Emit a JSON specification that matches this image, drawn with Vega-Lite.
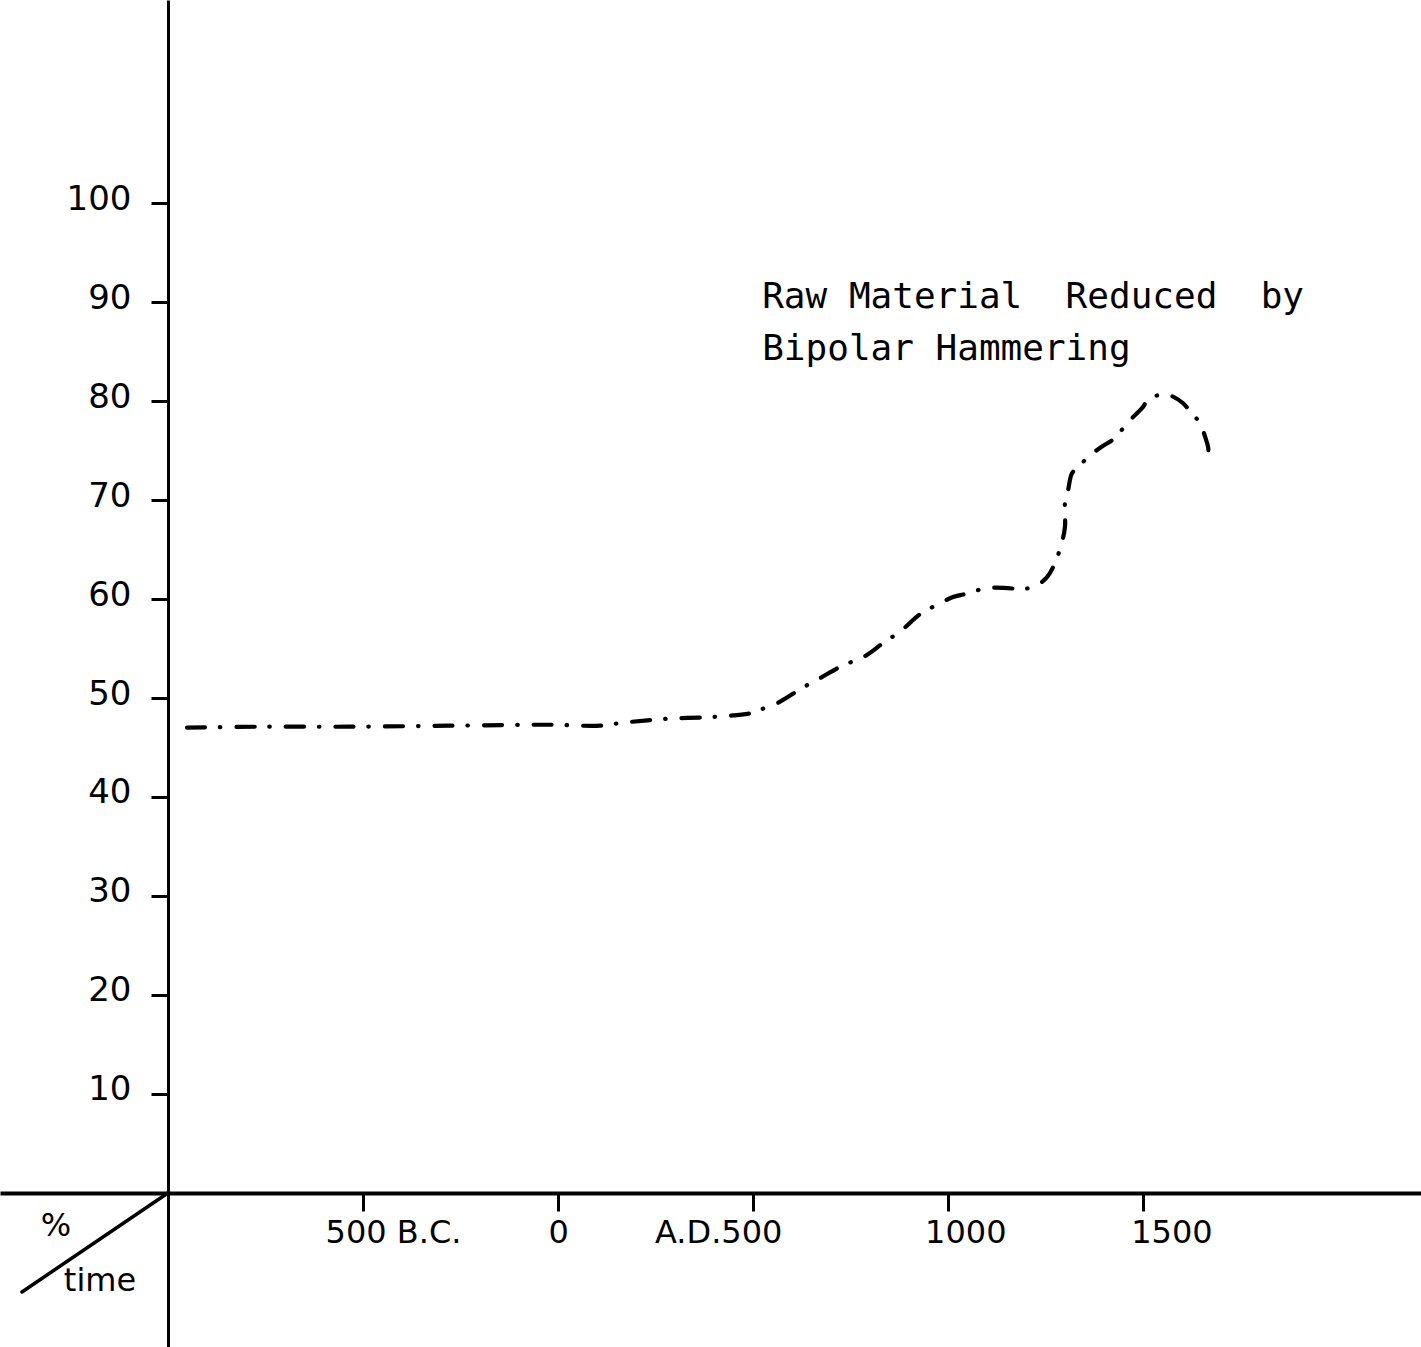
{
  "$schema": "https://vega.github.io/schema/vega-lite/v6.json",
  "width": 1421,
  "height": 1347,
  "autosize": {"type": "none"},
  "padding": 0,
  "background": "white",
  "config": {"view": {"stroke": null}},
  "datasets": {
    "curve": [
      {"i": 0, "year": -951, "pct": 47.0},
      {"i": 1, "year": -764, "pct": 47.1},
      {"i": 2, "year": -533, "pct": 47.1},
      {"i": 3, "year": -277, "pct": 47.2},
      {"i": 4, "year": -21, "pct": 47.3},
      {"i": 5, "year": 107, "pct": 47.2},
      {"i": 6, "year": 166, "pct": 47.5},
      {"i": 7, "year": 279, "pct": 47.9},
      {"i": 8, "year": 402, "pct": 48.1},
      {"i": 9, "year": 499, "pct": 48.5},
      {"i": 10, "year": 517, "pct": 48.8},
      {"i": 11, "year": 563, "pct": 49.5},
      {"i": 12, "year": 625, "pct": 51.0},
      {"i": 13, "year": 671, "pct": 52.0},
      {"i": 14, "year": 730, "pct": 53.3},
      {"i": 15, "year": 781, "pct": 54.1},
      {"i": 16, "year": 838, "pct": 55.7},
      {"i": 17, "year": 876, "pct": 56.7},
      {"i": 18, "year": 932, "pct": 58.6},
      {"i": 19, "year": 971, "pct": 59.4},
      {"i": 20, "year": 1012, "pct": 60.2},
      {"i": 21, "year": 1043, "pct": 60.5},
      {"i": 22, "year": 1099, "pct": 61.1},
      {"i": 23, "year": 1153, "pct": 61.1},
      {"i": 24, "year": 1191, "pct": 61.0},
      {"i": 25, "year": 1227, "pct": 61.4},
      {"i": 26, "year": 1253, "pct": 62.2},
      {"i": 27, "year": 1273, "pct": 63.6},
      {"i": 28, "year": 1291, "pct": 65.7},
      {"i": 29, "year": 1299, "pct": 67.3},
      {"i": 30, "year": 1299, "pct": 69.7},
      {"i": 31, "year": 1307, "pct": 71.0},
      {"i": 32, "year": 1317, "pct": 72.7},
      {"i": 33, "year": 1337, "pct": 73.5},
      {"i": 34, "year": 1363, "pct": 74.5},
      {"i": 35, "year": 1394, "pct": 75.4},
      {"i": 36, "year": 1422, "pct": 76.1},
      {"i": 37, "year": 1445, "pct": 77.1},
      {"i": 38, "year": 1474, "pct": 78.4},
      {"i": 39, "year": 1497, "pct": 79.3},
      {"i": 40, "year": 1512, "pct": 80.1},
      {"i": 41, "year": 1550, "pct": 80.7},
      {"i": 42, "year": 1573, "pct": 80.5},
      {"i": 43, "year": 1601, "pct": 79.8},
      {"i": 44, "year": 1627, "pct": 78.6},
      {"i": 45, "year": 1645, "pct": 77.8},
      {"i": 46, "year": 1658, "pct": 76.4},
      {"i": 47, "year": 1666, "pct": 75.3},
      {"i": 48, "year": 1666, "pct": 74.2}
    ],
    "diag": [
      {"year": -1374, "pct": -10.0, "year2": -1000, "pct2": 0}
    ],
    "notes": [
      {"year": 523, "pct": 89.4, "text": "Raw Material\u00a0\u00a0Reduced\u00a0\u00a0by"},
      {"year": 523, "pct": 84.1, "text": "Bipolar Hammering"}
    ],
    "corner": [
      {"year": -1287, "pct": -3.3, "text": "%"},
      {"year": -1174, "pct": -8.9, "text": "time"}
    ]
  },
  "layer": [
    {
      "data": {"name": "curve"},
      "mark": {
        "type": "line",
        "color": "black",
        "strokeWidth": 4.2,
        "strokeCap": "round",
        "strokeDash": [18, 15, 0.5, 16],
        "interpolate": "catmull-rom"
      },
      "encoding": {
        "x": {
          "field": "year",
          "type": "quantitative",
          "scale": {"domain": [-1430.3, 2211.4], "nice": false, "zero": false},
          "axis": {
            "orient": "bottom",
            "offset": -154,
            "values": [-500, 0, 500, 1000, 1500],
            "labelExpr": "datum.value == -500 ? '500 B.C.' : datum.value == 500 ? 'A.D.500' : datum.value",
            "title": null,
            "grid": false,
            "domainColor": "black",
            "domainWidth": 4,
            "tickColor": "black",
            "tickWidth": 3,
            "tickSize": 18,
            "labelPadding": 6,
            "labelFont": "DejaVu Sans",
            "labelFontSize": 32,
            "labelColor": "black",
            "labelBaseline": "top",
            "labelFlush": false,
            "labelOverlap": false,
            "labelOffset": {
              "condition": [
                {"test": "datum.value == -500", "value": 30},
                {"test": "datum.value == 500", "value": -35},
                {"test": "datum.value == 1000", "value": 17},
                {"test": "datum.value == 1500", "value": 28}
              ],
              "value": 0
            }
          }
        },
        "y": {
          "field": "pct",
          "type": "quantitative",
          "scale": {"domain": [-15.56, 120.51], "nice": false, "zero": false},
          "axis": {
            "orient": "left",
            "offset": -168,
            "values": [10, 20, 30, 40, 50, 60, 70, 80, 90, 100],
            "title": null,
            "grid": false,
            "domainColor": "black",
            "domainWidth": 3,
            "tickColor": "black",
            "tickWidth": 3,
            "tickSize": 17,
            "labelPadding": 20,
            "labelFont": "DejaVu Sans",
            "labelFontSize": 34,
            "labelColor": "black",
            "labelBaseline": "middle",
            "labelOffset": -4,
            "labelFlush": false,
            "labelOverlap": false
          }
        },
        "order": {"field": "i", "type": "quantitative"}
      }
    },
    {
      "data": {"name": "diag"},
      "mark": {"type": "rule", "color": "black", "strokeWidth": 3.5, "strokeCap": "round"},
      "encoding": {
        "x": {"field": "year", "type": "quantitative"},
        "y": {"field": "pct", "type": "quantitative"},
        "x2": {"field": "year2"},
        "y2": {"field": "pct2"}
      }
    },
    {
      "data": {"name": "notes"},
      "mark": {
        "type": "text",
        "align": "left",
        "baseline": "alphabetic",
        "font": "DejaVu Sans Mono",
        "fontSize": 36,
        "color": "black"
      },
      "encoding": {
        "x": {"field": "year", "type": "quantitative"},
        "y": {"field": "pct", "type": "quantitative"},
        "text": {"field": "text"}
      }
    },
    {
      "data": {"name": "corner"},
      "mark": {
        "type": "text",
        "align": "center",
        "baseline": "middle",
        "font": "DejaVu Sans",
        "fontSize": 32,
        "color": "black"
      },
      "encoding": {
        "x": {"field": "year", "type": "quantitative"},
        "y": {"field": "pct", "type": "quantitative"},
        "text": {"field": "text"}
      }
    }
  ]
}
